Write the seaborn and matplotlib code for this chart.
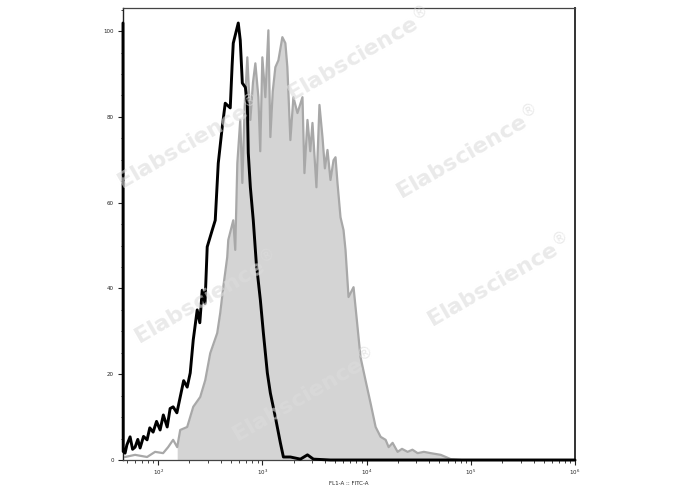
import numpy as np
import pandas as pd
import matplotlib
matplotlib.use("Agg")
import matplotlib.pyplot as plt
import matplotlib.ticker as ticker
import seaborn as sns

# --- data (log10 of FITC intensity, event count scaled to max=100) ---
black_log = [1.663, 1.665, 1.683, 1.700, 1.731, 1.755, 1.779, 1.805, 1.827, 1.860, 1.894,
             1.920, 1.952, 1.985, 2.019, 2.050, 2.087, 2.115, 2.144, 2.180, 2.212, 2.245,
             2.279, 2.308, 2.337, 2.375, 2.400, 2.423, 2.450, 2.471, 2.519, 2.548, 2.577,
             2.615, 2.644, 2.692, 2.710, 2.721, 2.769, 2.788, 2.808, 2.837, 2.856, 2.865,
             2.885, 2.913, 2.942, 2.981, 3.010, 3.048, 3.077, 3.125, 3.173, 3.202, 3.269,
             3.365, 3.433, 3.490, 3.654, 6.0]
black_cnt = [101.9, 2.0, 1.6, 3.5, 5.4, 2.5, 3.0, 4.8, 2.8, 5.5, 4.7,
             7.5, 6.5, 9.0, 7.0, 10.5, 7.7, 12.0, 12.4, 11.0, 14.7, 18.5,
             17.0, 20.3, 28.0, 35.0, 32.0, 39.6, 36.5, 49.7, 53.6, 55.9, 69.2,
             77.6, 83.2, 82.1, 92.0, 97.2, 101.9, 97.9, 87.9, 86.9, 83.2, 71.6,
             63.6, 55.9, 45.9, 37.3, 29.6, 20.3, 15.6, 10.0, 4.0, 0.7, 0.7,
             0.2, 1.2, 0.2, 0.0, 0.0]

gray_log = [1.683, 1.779, 1.894, 1.971, 2.048, 2.096, 2.144, 2.183, 2.212, 2.279, 2.337,
            2.404, 2.452, 2.500, 2.567, 2.596, 2.625, 2.663, 2.673, 2.721, 2.740, 2.760,
            2.788, 2.808, 2.830, 2.856, 2.885, 2.910, 2.933, 2.962, 2.980, 3.000, 3.029,
            3.058, 3.077, 3.100, 3.125, 3.154, 3.192, 3.221, 3.240, 3.269, 3.298, 3.337,
            3.385, 3.404, 3.433, 3.460, 3.481, 3.519, 3.548, 3.577, 3.600, 3.625, 3.654,
            3.683, 3.702, 3.721, 3.750, 3.779, 3.798, 3.827, 3.875, 3.904, 3.942, 3.990,
            4.038, 4.087, 4.135, 4.183, 4.212, 4.250, 4.298, 4.340, 4.394, 4.440, 4.490,
            4.550, 4.615, 4.712, 4.808, 4.904]
gray_cnt = [0.7, 1.2, 0.7, 1.9, 1.6, 3.0, 4.7, 3.0, 7.0, 7.7, 12.4,
            14.7, 18.6, 24.9, 29.6, 34.3, 40.3, 47.3, 51.3, 55.9, 49.0, 69.2,
            79.3, 64.6, 82.0, 93.9, 79.3, 88.0, 92.5, 84.6, 72.0, 93.9, 84.6,
            100.2, 75.3, 86.0, 91.6, 93.2, 98.6, 97.2, 91.6, 74.6, 84.6, 80.9,
            84.6, 66.9, 79.3, 72.0, 78.6, 63.6, 82.8, 75.3, 68.0, 72.3, 65.3,
            69.9, 70.6, 64.6, 56.6, 53.6, 49.0, 38.0, 40.3, 33.3, 24.0, 18.6,
            13.3, 7.7, 5.4, 4.7, 3.0, 4.0, 1.9, 2.6, 1.9, 2.4, 1.6,
            1.9, 1.6, 1.2, 0.2, 0.0]
gray_fill_from = 2.183

y_ticks = [0, 20, 40, 60, 80, 100]
x_decades = [2, 3, 4, 5, 6]
x_label = "FL1-A :: FITC-A"
watermark = r"Elabscience$^{\circledR}$"
# watermark centres in figure pixels (from the reference)
wm_x = [188, 358, 467, 498, 205, 303]
wm_y = [142, 54, 152, 280, 297, 395]

df_black = pd.DataFrame({"intensity": np.power(10.0, black_log), "count": black_cnt})
df_gray = pd.DataFrame({"intensity": np.power(10.0, gray_log), "count": gray_cnt})

sns.set_style("ticks")
plt.rcParams['font.family'] = ['DejaVu Sans']

W, H = 688, 490
fig = plt.figure(figsize=(W / 100, H / 100), dpi=100)
ax = fig.add_axes([123 / W, 1 - 460 / H, (575 - 123) / W, (460 - 8) / H])

# filled control histogram (gray)
fill_part = df_gray[df_gray["intensity"] >= 10 ** gray_fill_from]
ax.fill_between(fill_part["intensity"], 0, fill_part["count"], color="#d4d4d4", lw=0, zorder=1)
sns.lineplot(data=df_gray, x="intensity", y="count", sort=False, estimator=None,
             color="#a8a8a8", lw=1.6, ax=ax, zorder=2)

# stained sample histogram (black)
sns.lineplot(data=df_black, x="intensity", y="count", sort=False, estimator=None,
             color="black", lw=2.1, ax=ax, zorder=3, clip_on=False)

ax.set_xscale("log")
ax.set_xlim(10 ** 1.663, 10 ** 6)
ax.set_ylim(0, 105.4)

ax.set_yticks(y_ticks)
ax.set_yticklabels([str(v) for v in y_ticks])
ax.yaxis.set_minor_locator(ticker.MultipleLocator(5))
ax.set_xticks([10 ** d for d in x_decades])
ax.set_xticklabels([f"$10^{d}$" for d in x_decades])
ax.xaxis.set_minor_locator(ticker.LogLocator(base=10, subs=np.arange(2, 10)))
ax.xaxis.set_minor_formatter(ticker.NullFormatter())

ax.tick_params(axis="both", which="major", direction="out", length=3.5, width=0.8,
               labelsize=4, colors="#222222", pad=3)
ax.tick_params(axis="x", which="major", pad=2)
ax.tick_params(axis="both", which="minor", direction="out", length=1.8, width=0.6,
               colors="#222222")
ax.set_xlabel(x_label, fontsize=4, labelpad=3, color="#222222")
ax.set_ylabel("")

for side in ["top", "bottom"]:
    ax.spines[side].set_color("#444444")
    ax.spines[side].set_linewidth(0.9)
ax.spines["left"].set_color("#222222")
ax.spines["left"].set_linewidth(1.0)
ax.spines["right"].set_color("#333333")
ax.spines["right"].set_linewidth(1.4)

for cx, cy in zip(wm_x, wm_y):
    fig.text(cx / W, 1 - cy / H, watermark, fontsize=16, fontweight="bold",
             color="#dcdcdc", alpha=0.6, rotation=30, ha="center", va="center", zorder=10)

fig.savefig("out.png", dpi=100)
